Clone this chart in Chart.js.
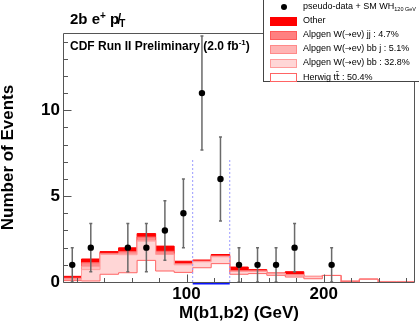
<!DOCTYPE html>
<html><head><meta charset="utf-8">
<script src="https://cdn.jsdelivr.net/npm/chart.js@4/dist/chart.umd.min.js"></script>
<style>
body{margin:0;background:#fff;}
#wrap{position:relative;width:419px;height:327px;overflow:hidden;font-family:"Liberation Sans",Arial,sans-serif;color:#000;}
canvas{position:absolute;left:0;top:0;}
.hdr{position:absolute;left:70px;top:11px;font-weight:bold;font-size:15px;line-height:1;white-space:nowrap;}
.hdr sup{font-size:10px;vertical-align:5px;line-height:0;}
.hdr sub{font-size:10px;vertical-align:-3px;line-height:0;}
.cdf{position:absolute;left:70px;top:40px;font-weight:bold;font-size:12px;line-height:1;white-space:nowrap;}
.cdf sup{font-size:8px;vertical-align:5px;line-height:0;}
#legend{position:absolute;left:263px;top:-1px;width:160px;height:83px;border:1px solid #444;background:#fff;box-sizing:border-box;}
.sw{position:absolute;width:27px;height:9px;box-sizing:border-box;}
.lt{position:absolute;font-size:9px;line-height:1;white-space:nowrap;}
.lt sub{font-size:5.5px;vertical-align:-2px;line-height:0;}
.lt .dj{font-family:"DejaVu Sans",sans-serif;font-size:8px;}
.dot{position:absolute;width:6px;height:6px;border-radius:50%;background:#000;}
</style></head>
<body>
<div id="wrap">
<canvas id="c" width="419" height="327"></canvas>
<div class="hdr">2b e<sup>+</sup> p&#x338;<sub>T</sub></div>
<div class="cdf">CDF Run II Preliminary (2.0 fb<sup>-1</sup>)</div>
<div id="legend"></div>
</div>
<script>
// ---- data ----
const binEdges = [10, 23.5, 37, 50.5, 64, 77.5, 91, 104.5, 118, 131.5, 145, 158.5, 172, 185.5, 199, 212.5, 226, 239.5, 253, 266.5];
const ttbar = [0.08,0.06,0.45,0.54,1.26,0.64,0.56,0.83,1.07,0.45,0.49,0.39,0.29,0.19,0.38,0.00,0.16,0.00,0.00];
const wbb   = [0.07,0.66,1.15,1.05,1.12,0.96,0.44,0.35,0.40,0.16,0.12,0.10,0.10,0.12,0.00,0.00,0.00,0.03,0.03];
const wbbj  = [0.04,0.20,0.03,0.08,0.06,0.06,0.04,0.02,0.02,0.02,0.02,0.01,0.02,0.01,0.00,0.00,0.00,0.00,0.00];
const wjj   = [0.04,0.20,0.04,0.10,0.18,0.13,0.04,0.02,0.03,0.02,0.02,0.01,0.02,0.00,0.00,0.00,0.00,0.00,0.00];
const other = [0.10,0.22,0.10,0.22,0.20,0.30,0.13,0.06,0.08,0.22,0.07,0.01,0.17,0.01,0.00,0.05,0.00,0.00,0.00];
const dataCounts = [1,2,0,2,2,3,4,11,6,1,1,1,2,0,1,0,0,0,0];
const dataErrors = [1,1.41,0,1.41,1.41,1.73,2,3.32,2.45,1,1,1,1.41,0,1,0,0,0,0];
const signalEdges = [104.5, 118, 131.5];
const signalVals = [-0.07, -0.07];
const windowEdges = [104.5, 131.5];
const windowTop = 7.2;
const yMajorTicks = [0,5,10];
const yMinorTicks = [1,2,3,4,6,7,8,9,11,12,13,14];
const xMajorTicks = [100,200];
const xMinorTicks = [20,40,60,80,120,140,160,180,220,240,260];
const ARROW = '<span class="dj">\u2192</span>';
const legendLabels = ['pseudo-data + SM WH<sub>120 GeV</sub>','Other',
  'Alpgen W('+ARROW+'e\u03bd) jj : 4.7%','Alpgen W('+ARROW+'e\u03bd) bb j : 5.1%',
  'Alpgen W('+ARROW+'e\u03bd) bb : 32.8%','Herwig t<span class="dj" style="font-size:9px">t\u0304</span> : 50.4%'];

// ---- styles ----
const FONT = '"Liberation Sans", Arial, sans-serif';
const fills   = ['#ffffff','#ffd6d6','#ffbcbc','#ff8a8a','#ff0000'];
const borders = ['#ff6464','#ff9c9c','#ff8c8c','#ff5a5a','#ff0000'];
const legendFill   = ['#ff0000','#ff8080','#ffb4b4','#ffd6d6','#ffffff'];
const legendBorder = ['#ff0000','#ff5a5a','#ff8a8a','#ff9c9c','#ff6464'];

function histPoints(vals){
  const pts = vals.map((v,i)=>({x:binEdges[i], y:v}));
  pts.push({x:binEdges[vals.length], y:vals[vals.length-1]});
  return pts;
}
const centers = dataCounts.map((_,i)=>(binEdges[i]+binEdges[i+1])/2);
const dataPts = [];
dataCounts.forEach((c,i)=>{ if(c>0) dataPts.push({x:centers[i], y:c}); });

const layers = [ttbar, wbb, wbbj, wjj, other];
const datasets = layers.map((vals,k)=>({
  type:'line', data:histPoints(vals), stepped:'before', stack:'bg',
  fill: k===0 ? 'origin' : '-1', backgroundColor:fills[k], borderColor:borders[k],
  borderWidth:1, pointRadius:0, order:0
}));
const DATA_IDX = datasets.length;
datasets.push({type:'line', data:dataPts, showLine:false, stack:'data', pointRadius:3.2,
  pointBackgroundColor:'#000', pointBorderColor:'#000', pointBorderWidth:0, order:-3});
datasets.push({type:'line', data:signalEdges.map((e,i)=>({x:e, y:signalVals[Math.min(i,signalVals.length-1)]})),
  stepped:'before', stack:'sig', borderColor:'#0a14ff', borderWidth:2.5, pointRadius:0, fill:false, order:-2, clip:false});
windowEdges.forEach((e,i)=>{
  datasets.push({type:'line', data:[{x:e,y:0},{x:e,y:windowTop}], stack:'win'+i, borderColor:'#9a9aff',
    borderWidth:1, borderDash:[2,2], pointRadius:0, fill:false, order:-1});
});

const errPlugin = {
  id:'errbars',
  beforeDatasetDraw(chart, args){
    if(args.index !== DATA_IDX) return;
    const {ctx, scales:{x,y}} = chart;
    ctx.save();
    ctx.strokeStyle = '#6a6a6a'; ctx.lineWidth = 1.5;
    dataCounts.forEach((c,i)=>{
      if(c<=0) return;
      const px = x.getPixelForValue(centers[i]);
      const y1 = y.getPixelForValue(c+dataErrors[i]);
      const y0 = y.getPixelForValue(Math.max(0,c-dataErrors[i]));
      ctx.beginPath();
      ctx.moveTo(px,y0); ctx.lineTo(px,y1);
      ctx.moveTo(px-1.5,y1); ctx.lineTo(px+1.5,y1);
      ctx.moveTo(px-1.5,y0); ctx.lineTo(px+1.5,y0);
      ctx.stroke();
    });
    ctx.restore();
  }
};
const framePlugin = {
  id:'frame',
  afterDraw(chart){
    const {ctx, chartArea:a, scales:{x,y}} = chart;
    ctx.save();
    ctx.strokeStyle = '#555'; ctx.lineWidth = 1;
    const L = Math.round(a.left)+0.5, R = Math.round(a.right)-0.5, T = Math.round(a.top)+0.5, B = Math.round(a.bottom)+0.5;
    ctx.beginPath();
    ctx.moveTo(L,T); ctx.lineTo(R,T); ctx.lineTo(R,B); ctx.lineTo(L,B); ctx.closePath();
    yMajorTicks.forEach(v=>{ const p=Math.round(y.getPixelForValue(v))+0.5; ctx.moveTo(L,p); ctx.lineTo(L+8,p); });
    yMinorTicks.forEach(v=>{ const p=Math.round(y.getPixelForValue(v))+0.5; ctx.moveTo(L,p); ctx.lineTo(L+4.5,p); });
    xMajorTicks.forEach(v=>{ const p=Math.round(x.getPixelForValue(v))+0.5; ctx.moveTo(p,B); ctx.lineTo(p,B-8); });
    xMinorTicks.forEach(v=>{ const p=Math.round(x.getPixelForValue(v))+0.5; ctx.moveTo(p,B); ctx.lineTo(p,B-4.5); });
    ctx.stroke();
    ctx.restore();
  }
};

new Chart(document.getElementById('c'), {
  data:{datasets},
  options:{
    responsive:false, animation:false, devicePixelRatio:1,
    layout:{padding:{top:33,right:1,left:0,bottom:0}},
    plugins:{legend:{display:false}, tooltip:{enabled:false}},
    scales:{
      x:{type:'linear', min:10, max:266.5,
        grid:{display:false, drawTicks:false}, border:{display:false},
        ticks:{stepSize:100, includeBounds:false, autoSkip:false, maxRotation:0, padding:2, color:'#000',
          font:{family:FONT, size:17, weight:'bold'}},
        title:{display:true, text:'M(b1,b2) (GeV)', color:'#000', font:{family:FONT, size:17, weight:'bold', lineHeight:1.2}, padding:{top:0,bottom:3}},
        afterFit(s){ s.height = 45; }
      },
      y:{type:'linear', stacked:true, min:0, max:14.5,
        grid:{display:false, drawTicks:false}, border:{display:false},
        ticks:{stepSize:5, includeBounds:false, autoSkip:false, padding:3, color:'#000',
          font:{family:FONT, size:17, weight:'bold'}},
        title:{display:true, text:'Number of Events', color:'#000', font:{family:FONT, size:17, weight:'bold', lineHeight:1}, padding:{top:0,bottom:0}},
        afterFit(s){ s.width = 63; }
      }
    }
  },
  plugins:[errPlugin, framePlugin]
});

// ---- legend ----
const leg = document.getElementById('legend');
legendLabels.forEach((lab,i)=>{
  const cy = 7 + 14.1*i;
  if(i===0){
    const d = document.createElement('div'); d.className='dot';
    d.style.left = (19.5-3)+'px'; d.style.top = (cy-3)+'px'; leg.appendChild(d);
  } else {
    const s = document.createElement('div'); s.className='sw';
    s.style.left='6px'; s.style.top=(cy-4.5)+'px';
    s.style.background = legendFill[i-1]; s.style.border = '1px solid '+legendBorder[i-1];
    leg.appendChild(s);
  }
  const t = document.createElement('div'); t.className='lt';
  t.style.left='39px'; t.style.top=(cy-5)+'px'; t.innerHTML = lab; leg.appendChild(t);
});
</script>
</body></html>
